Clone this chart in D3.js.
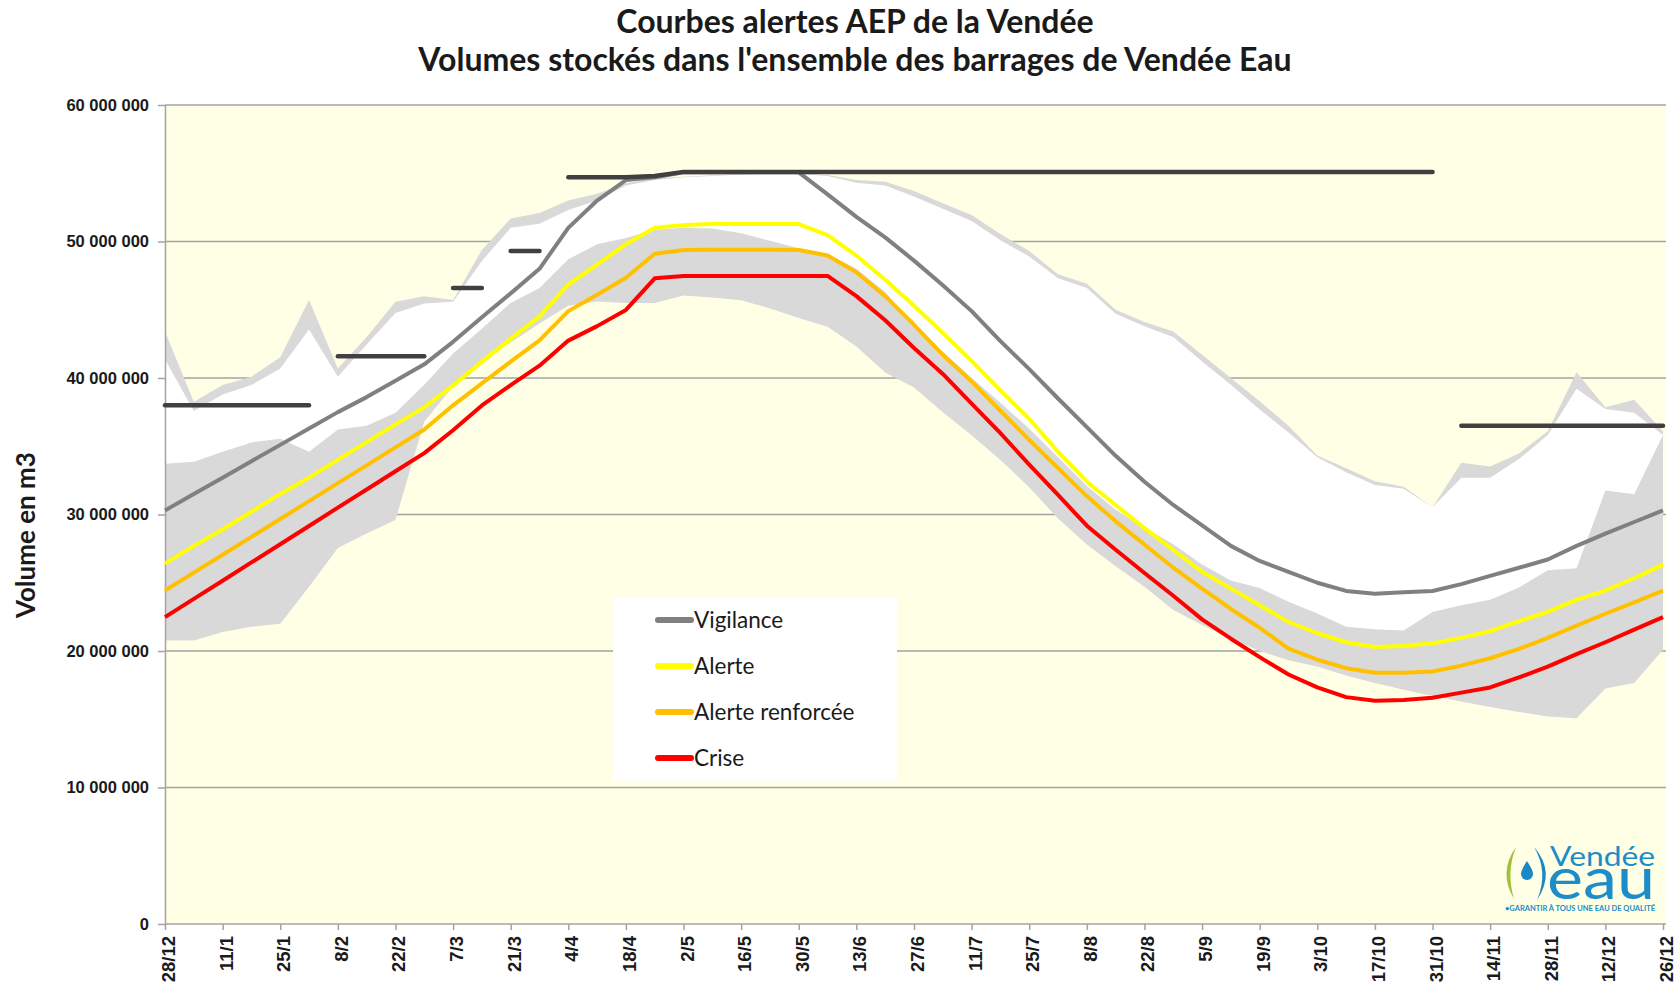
<!DOCTYPE html>
<html>
<head>
<meta charset="utf-8">
<script src="https://cdn.jsdelivr.net/npm/d3@7/dist/d3.min.js"></script>
<style>
  body { margin: 0; background: #ffffff; }
  svg { display: block; font-family: Lato, "Open Sans", sans-serif; }
</style>
</head>
<body>
<script>
// Une valeur par semaine, du 28/12 au 26/12 (53 semaines), volumes en millions de m3
var etiquettes = ["28/12", "11/1", "25/1", "8/2", "22/2", "7/3", "21/3", "4/4", "18/4", "2/5",
  "16/5", "30/5", "13/6", "27/6", "11/7", "25/7", "8/8", "22/8", "5/9", "19/9",
  "3/10", "17/10", "31/10", "14/11", "28/11", "12/12", "26/12"];

var graduations = [0, 10, 20, 30, 40, 50, 60];

var vigilance = [30.3, 31.5, 32.7, 33.9, 35.1, 36.3, 37.5, 38.6, 39.8, 41.0,
  42.65, 44.45, 46.2, 48.0, 51.0, 53.0, 54.5, 54.7, 55.07, 55.07,
  55.07, 55.07, 55.07, 53.45, 51.8, 50.3, 48.6, 46.8, 44.9, 42.7,
  40.65, 38.5, 36.4, 34.3, 32.4, 30.7, 29.2, 27.7, 26.6, 25.8,
  25.0, 24.4, 24.2, 24.3, 24.4, 24.9, 25.5, 26.1, 26.7, 27.7,
  28.6, 29.45, 30.3];

var alerte = [26.4, 27.7, 28.9, 30.2, 31.5, 32.7, 34.0, 35.3, 36.6, 37.85,
  39.45, 41.2, 42.87, 44.5, 46.85, 48.3, 49.8, 51.0, 51.2, 51.28,
  51.28, 51.28, 51.28, 50.46, 48.97, 47.2, 45.3, 43.3, 41.25, 39.1,
  37.0, 34.6, 32.4, 30.7, 29.0, 27.4, 25.8, 24.57, 23.35, 22.13,
  21.3, 20.64, 20.3, 20.37, 20.56, 20.96, 21.45, 22.18, 22.86, 23.75,
  24.43, 25.33, 26.33];

var alerteRenforcee = [24.43, 25.74, 27.05, 28.36, 29.67, 30.98, 32.3, 33.6, 34.92, 36.23,
  38.0, 39.6, 41.2, 42.76, 44.9, 46.1, 47.35, 49.1, 49.38, 49.4,
  49.4, 49.4, 49.38, 48.97, 47.75, 46.0, 43.9, 41.7, 39.75, 37.6,
  35.46, 33.4, 31.35, 29.5, 27.8, 26.1, 24.57, 23.08, 21.7, 20.18,
  19.36, 18.74, 18.4, 18.4, 18.5, 18.93, 19.47, 20.15, 20.96, 21.86,
  22.73, 23.57, 24.43];

var crise = [22.48, 23.82, 25.15, 26.49, 27.82, 29.16, 30.5, 31.83, 33.17, 34.5,
  36.17, 37.99, 39.48, 40.9, 42.74, 43.8, 44.99, 47.3, 47.48, 47.48,
  47.48, 47.48, 47.48, 47.48, 46.0, 44.23, 42.2, 40.3, 38.13, 35.96,
  33.65, 31.43, 29.18, 27.42, 25.71, 24.05, 22.32, 20.9, 19.55, 18.28,
  17.33, 16.62, 16.35, 16.41, 16.57, 16.95, 17.33, 18.06, 18.85, 19.77,
  20.64, 21.56, 22.48];

// paliers gris fonce, coupes aux semaines de "ruptures"
var niveau = [38.0, 38.0, 38.0, 38.0, 38.0, 38.0, 41.6, 41.6, 41.6, 41.6,
  46.6, 46.6, 49.3, 49.3, 54.7, 54.7, 54.7, 54.8, 55.1, 55.1,
  55.1, 55.1, 55.1, 55.1, 55.1, 55.1, 55.1, 55.1, 55.1, 55.1,
  55.1, 55.1, 55.1, 55.1, 55.1, 55.1, 55.1, 55.1, 55.1, 55.1,
  55.1, 55.1, 55.1, 55.1, 55.1, 36.5, 36.5, 36.5, 36.5, 36.5,
  36.5, 36.5, 36.5];
var ruptures = [6, 10, 12, 14, 45];

// enveloppe historique : gris (min -> bas), blanc (bas -> haut), gris (haut -> max)
var enveloppeMin = [20.77, 20.77, 21.39, 21.78, 22.0, 24.7, 27.55, 28.6, 29.6, 36.8,
  39.4, 41.3, 42.6, 44.0, 45.3, 45.6, 45.5, 45.5, 46.05, 45.9,
  45.7, 45.1, 44.4, 43.75, 42.3, 40.4, 39.3, 37.5, 35.8, 34.0,
  32.0, 29.7, 27.8, 26.2, 24.7, 23.0, 21.9, 20.9, 20.0, 19.33,
  18.87, 18.2, 17.65, 17.17, 16.7, 16.3, 15.9, 15.54, 15.2, 15.08,
  17.25, 17.65, 20.1];

var enveloppeBas = [33.71, 33.87, 34.6, 35.28, 35.55, 34.6, 36.23, 36.5, 37.45, 39.5,
  41.8, 43.6, 45.5, 46.6, 48.7, 49.8, 50.25, 50.87, 51.0, 50.95,
  50.6, 50.06, 49.5, 49.1, 48.0, 46.3, 43.82, 41.92, 40.02, 38.18,
  36.28, 34.2, 32.08, 30.34, 29.04, 27.82, 26.33, 25.17, 24.62, 23.6,
  22.75, 21.78, 21.59, 21.5, 22.86, 23.35, 23.76, 24.65, 25.92, 26.06,
  31.75, 31.48, 35.82];

var enveloppeHaut = [41.38, 37.58, 38.8, 39.48, 40.7, 43.55, 40.1, 42.46, 44.77, 45.45,
  45.58, 48.57, 51.0, 51.3, 52.3, 53.0, 54.1, 54.5, 54.7, 54.8,
  54.9, 54.95, 54.95, 54.8, 54.3, 54.1, 53.3, 52.4, 51.5, 50.1,
  48.9, 47.3, 46.6, 44.7, 43.8, 43.0, 41.2, 39.5, 37.7, 36.0,
  34.2, 33.1, 32.16, 31.89, 30.53, 32.7, 32.7, 34.06, 35.82, 39.21,
  37.72, 37.45, 35.82];

var enveloppeMax = [43.41, 38.26, 39.48, 40.1, 41.52, 45.72, 40.7, 43.0, 45.58, 45.99,
  45.72, 49.38, 51.68, 52.09, 53.0, 53.5, 54.26, 54.63, 54.75, 54.85,
  54.95, 55.0, 55.0, 54.87, 54.5, 54.38, 53.7, 52.8, 51.95, 50.55,
  49.3, 47.6, 46.9, 45.0, 44.1, 43.4, 41.7, 40.0, 38.3, 36.5,
  34.33, 33.38, 32.43, 32.03, 30.53, 33.79, 33.52, 34.47, 36.09, 40.43,
  37.86, 38.4, 36.09];

var series = [
  {nom: "Vigilance", valeurs: vigilance, couleur: "#808080"},
  {nom: "Alerte", valeurs: alerte, couleur: "#ffff00"},
  {nom: "Alerte renforcée", valeurs: alerteRenforcee, couleur: "#ffc000"},
  {nom: "Crise", valeurs: crise, couleur: "#ff0000"}
];

var svgWidth = 1680;
var svgHeight = 991;
var margin = {top: 105, right: 14, bottom: 67, left: 165};
var width = svgWidth - margin.left - margin.right;
var height = svgHeight - margin.top - margin.bottom;

var svg = d3.select("body")
  .append("svg")
  .attr("width", svgWidth)
  .attr("height", svgHeight);

var chartGroup = svg.append("g")
  .attr("transform", "translate(" + margin.left + "," + margin.top + ")");

// Step 1: scales
var xScale = d3.scaleLinear().domain([0, 52]).range([0, width - 3]);
var yScale = d3.scaleLinear().domain([0, 60]).range([height, 0]);

// Step 2: plot background + gridlines
chartGroup.append("rect")
  .attr("width", width)
  .attr("height", height)
  .attr("fill", "#ffffe6");

chartGroup.selectAll(".grid")
  .data(graduations.slice(1))
  .enter()
  .append("line")
  .attr("class", "grid")
  .attr("x1", 0)
  .attr("x2", width)
  .attr("y1", d => yScale(d))
  .attr("y2", d => yScale(d))
  .attr("stroke", "#a3a3a3")
  .attr("stroke-width", 1.5);

// Step 3: envelope areas
var table = vigilance.map(function(v, i) {
  return {min: enveloppeMin[i], bas: enveloppeBas[i], haut: enveloppeHaut[i], max: enveloppeMax[i]};
});

var areaGris = d3.area()
  .x((d, i) => xScale(i))
  .y0(d => yScale(d.min))
  .y1(d => yScale(d.max));

var areaBlanc = d3.area()
  .x((d, i) => xScale(i))
  .y0(d => yScale(d.bas))
  .y1(d => yScale(d.haut));

chartGroup.append("path")
  .attr("d", areaGris(table))
  .attr("fill", "#d9d9d9");

chartGroup.append("path")
  .attr("d", areaBlanc(table))
  .attr("fill", "#ffffff");

// Step 4: axes
var fmt = function(d) {
  return d3.format(",")(d * 1000000).replace(/,/g, " ");
};

var leftAxis = d3.axisLeft(yScale)
  .tickValues(graduations)
  .tickSize(7)
  .tickSizeOuter(0)
  .tickPadding(9)
  .tickFormat(fmt);

var bottomAxis = d3.axisBottom(xScale)
  .tickValues(d3.range(0, 53, 2))
  .tickSize(6)
  .tickSizeOuter(0)
  .tickFormat((d, i) => etiquettes[i]);

var gy = chartGroup.append("g").call(leftAxis);
gy.selectAll("text")
  .style("font-size", "16.5px")
  .style("font-weight", "bold")
  .attr("fill", "#1a1a1a");

var gx = chartGroup.append("g")
  .attr("transform", `translate(0, ${height})`)
  .call(bottomAxis);
gx.select(".domain").attr("d", "M0,0H" + width);
gx.selectAll("text")
  .attr("transform", "rotate(-90)")
  .attr("text-anchor", "end")
  .attr("x", -12)
  .attr("y", 3)
  .attr("dy", "0.35em")
  .style("font-size", "18.5px")
  .style("font-weight", "bold")
  .attr("fill", "#1a1a1a");

chartGroup.selectAll(".domain, .tick line")
  .attr("stroke", "#a3a3a3")
  .attr("stroke-width", 1.5);

// Step 5: alert lines
var ligne = d3.line()
  .x((d, i) => xScale(i))
  .y(d => yScale(d));

chartGroup.selectAll(".serie")
  .data(series)
  .enter()
  .append("path")
  .attr("class", "serie")
  .attr("d", d => ligne(d.valeurs))
  .attr("fill", "none")
  .attr("stroke", d => d.couleur)
  .attr("stroke-width", 4)
  .attr("stroke-linejoin", "round");

// Step 6: dark level segments
var bornes = [0].concat(ruptures, [niveau.length]);
var paliers = [];
for (var k = 0; k < bornes.length - 1; k++) {
  paliers.push(d3.range(bornes[k], bornes[k + 1]));
}
var lignePalier = d3.line()
  .x(i => xScale(i))
  .y(i => yScale(niveau[i]));

chartGroup.selectAll(".palier")
  .data(paliers)
  .enter()
  .append("path")
  .attr("class", "palier")
  .attr("d", d => lignePalier(d))
  .attr("fill", "none")
  .attr("stroke", "#404040")
  .attr("stroke-width", 4.5)
  .attr("stroke-linecap", "round");

// Step 7: legend
var legend = svg.append("g").attr("transform", "translate(613, 598)");
legend.append("rect")
  .attr("width", 284)
  .attr("height", 183)
  .attr("fill", "#ffffff");

var items = legend.selectAll(".item")
  .data(series)
  .enter()
  .append("g")
  .attr("class", "item")
  .attr("transform", (d, i) => `translate(0, ${22 + i * 46})`);

items.append("line")
  .attr("x1", 45)
  .attr("x2", 78)
  .attr("stroke", d => d.couleur)
  .attr("stroke-width", 6)
  .attr("stroke-linecap", "round");

items.append("text")
  .attr("x", 81)
  .attr("dy", "0.35em")
  .style("font-size", "22.5px")
  .attr("fill", "#1a1a1a")
  .text(d => d.nom);

// Step 8: titles
svg.append("text")
  .attr("x", 855)
  .attr("y", 33)
  .attr("text-anchor", "middle")
  .style("font-size", "32px")
  .style("font-weight", "bold")
  .attr("fill", "#1a1a1a")
  .text("Courbes alertes AEP de la Vendée");

svg.append("text")
  .attr("x", 855)
  .attr("y", 71)
  .attr("text-anchor", "middle")
  .style("font-size", "32px")
  .style("font-weight", "bold")
  .attr("fill", "#1a1a1a")
  .text("Volumes stockés dans l'ensemble des barrages de Vendée Eau");

svg.append("text")
  .attr("transform", "translate(35, 535) rotate(-90)")
  .attr("text-anchor", "middle")
  .style("font-size", "26px")
  .style("font-weight", "bold")
  .attr("fill", "#1a1a1a")
  .text("Volume en m3");

// Step 9: Vendée Eau logo (one text block, three lines)
var logo = svg.append("g");
logo.append("path")
  .attr("d", "M1516,847 Q1498,872 1514,899 Q1506,872 1516,847 Z")
  .attr("fill", "#a2c13b");
logo.append("path")
  .attr("d", "M1527,861 Q1521,870 1521,874 A6,6 0 0 0 1533,874 Q1533,870 1527,861 Z")
  .attr("fill", "#1b88c6");
logo.append("path")
  .attr("d", "M1534,847 Q1556,872 1537,900 Q1549,872 1534,847 Z")
  .attr("fill", "#1b88c6");

var logoText = logo.append("text").attr("fill", "#1c8dc8");
logoText.append("tspan")
  .attr("x", 1550)
  .attr("y", 866)
  .attr("textLength", 105)
  .attr("lengthAdjust", "spacingAndGlyphs")
  .style("font-size", "26px")
  .text("Vendée");
logoText.append("tspan")
  .attr("x", 1547)
  .attr("y", 899)
  .attr("textLength", 108)
  .attr("lengthAdjust", "spacingAndGlyphs")
  .style("font-size", "58px")
  .text("eau");
logoText.append("tspan")
  .attr("x", 1505)
  .attr("y", 911)
  .attr("textLength", 150)
  .attr("lengthAdjust", "spacingAndGlyphs")
  .style("font-size", "7px")
  .style("font-weight", "bold")
  .text("•GARANTIR À TOUS UNE EAU DE QUALITÉ");
</script>
</body>
</html>
